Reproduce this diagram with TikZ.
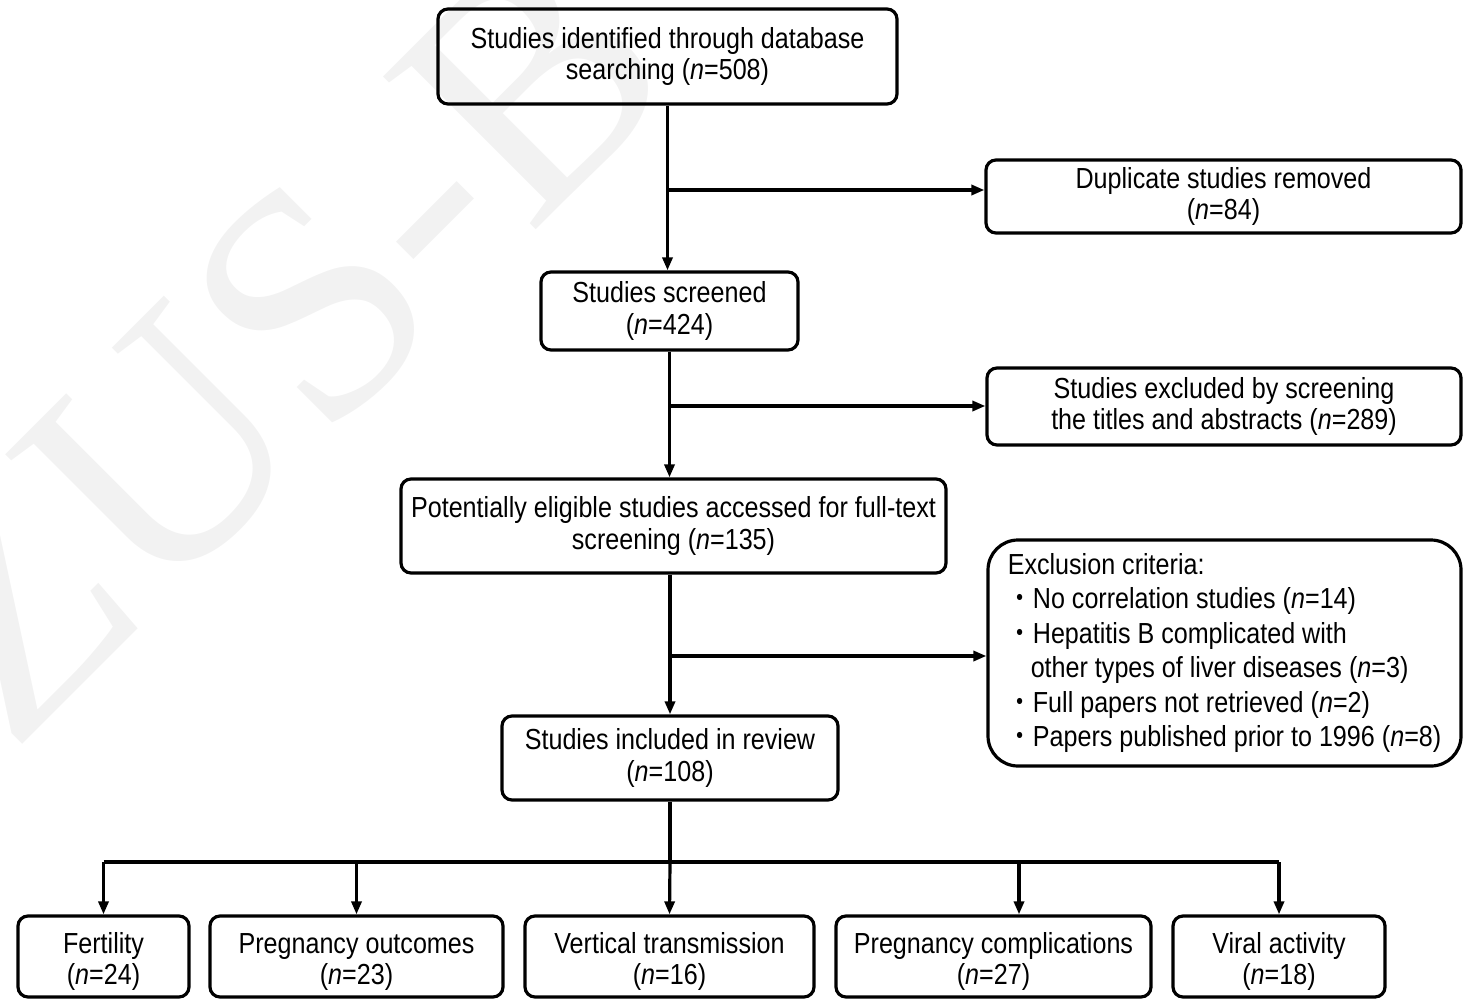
\documentclass[tikz,border=0pt]{standalone}
\usepackage{fontspec}
\setmainfont[FakeStretch=0.866]{Liberation Sans}
\newfontfamily\cjk[FakeStretch=0.866]{Noto Sans CJK JP}
\newfontfamily\wmfont{Liberation Serif}
\usetikzlibrary{arrows.meta}
\newcommand\lowstrut{\rule{0pt}{31pt}}
\begin{document}
\begin{tikzpicture}[x=1pt,y=-1pt,
  box/.style={draw, line width=3.2pt, rounded corners=10pt, align=center, inner sep=0pt,
    font=\fontsize{29}{31.5}\selectfont},
  link/.style={line width=3.2pt},
  arr/.style={line width=3.2pt, -{Triangle[length=13pt,width=10pt]}},
  watermark/.style={rotate=45, text=black!5, inner sep=0pt,
    font=\wmfont\fontsize{330}{330}\selectfont}]
\useasboundingbox (0,0) rectangle (1463,998);
\node[watermark] (wm) at (272,342) {ZUS-B};
% main column
\node[box, minimum width=459pt, minimum height=95pt] (b1) at (667.5,56.5)
  {Studies identified through database\\searching (\textit{n}=508)};
\node[box, minimum width=257pt, minimum height=78pt] (b2) at (669.5,311)
  {Studies screened\\(\textit{n}=424)};
\node[box, minimum width=545pt, minimum height=94pt] (b3) at (673.5,526)
  {Potentially eligible studies accessed for full-text\\screening (\textit{n}=135)};
\node[box, minimum width=336pt, minimum height=84pt] (b4) at (670,758)
  {Studies included in review\\(\textit{n}=108)};
% right column
\node[box, minimum width=475pt, minimum height=73pt] (dup) at (1223.5,196.5)
  {Duplicate studies removed\\(\textit{n}=84)};
\node[box, minimum width=474pt, minimum height=77pt] (ex1) at (1224,406.5)
  {Studies excluded by screening\\the titles and abstracts (\textit{n}=289)};
\node[box, rounded corners=30pt, align=left, minimum width=473pt, minimum height=226pt,
  font=\fontsize{29}{34.5}\selectfont] (ex2) at (1224.5,653)
  {Exclusion criteria:\\
   {\cjk ・}No correlation studies (\textit{n}=14)\\
   {\cjk ・}Hepatitis B complicated with\\
   \hspace*{23pt}other types of liver diseases (\textit{n}=3)\\
   {\cjk ・}Full papers not retrieved (\textit{n}=2)\\
   {\cjk ・}Papers published prior to 1996 (\textit{n}=8)};
% bottom row
\node[box, minimum width=171pt, minimum height=81pt] (f1) at (103.5,956.5)
  {\lowstrut Fertility\\(\textit{n}=24)};
\node[box, minimum width=293pt, minimum height=81pt] (f2) at (356.5,956.5)
  {\lowstrut Pregnancy outcomes\\(\textit{n}=23)};
\node[box, minimum width=289pt, minimum height=81pt] (f3) at (669.5,956.5)
  {\lowstrut Vertical transmission\\(\textit{n}=16)};
\node[box, minimum width=315pt, minimum height=81pt] (f4) at (993.5,956.5)
  {\lowstrut Pregnancy complications\\(\textit{n}=27)};
\node[box, minimum width=212pt, minimum height=81pt] (f5) at (1279,956.5)
  {\lowstrut Viral activity\\(\textit{n}=18)};
% connectors
\draw[arr] (b1.south) -- (b1.south |- b2.north);
\coordinate (j1) at (b1.south |- 0,190);
\draw[arr] (j1) -- (j1 -| dup.west);
\draw[arr] (b2.south) -- (b2.south |- b3.north);
\coordinate (j2) at (b2.south |- 0,406);
\draw[arr] (j2) -- (j2 -| ex1.west);
\draw[arr] (b4.north |- b3.south) -- (b4.north);
\coordinate (j3) at (b4.north |- 0,656);
\draw[arr] (j3) -- (j3 -| ex2.west);
\coordinate (bus) at (b4.south |- 0,862);
\coordinate (k4) at (1019,862);
\draw[link] (b4.south) -- (bus);
\draw[link] (f1.north |- bus) -- (f5.north |- bus);
\draw[arr] (f1.north |- bus) -- (f1.north);
\draw[arr] (f2.north |- bus) -- (f2.north);
\draw[arr] (bus) -- (f3.north);
\draw[arr] (k4) -- (k4 |- f4.north);
\draw[arr] (f5.north |- bus) -- (f5.north);
\end{tikzpicture}
\end{document}
